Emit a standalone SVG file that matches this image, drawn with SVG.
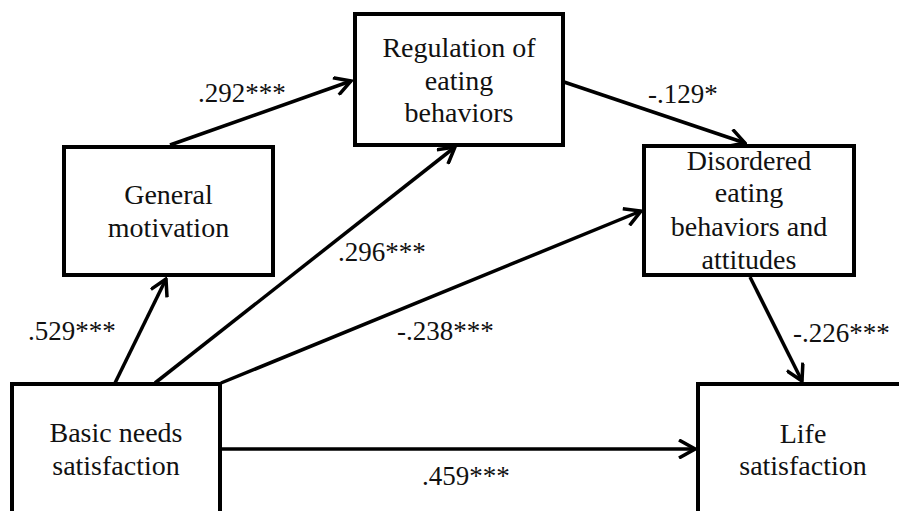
<svg xmlns="http://www.w3.org/2000/svg" width="899" height="511" viewBox="0 0 899 511">
<style>
.box{fill:#fff;stroke:#000;stroke-width:4}
.nodetxt{font-family:'Liberation Serif',serif;font-size:28px;fill:#111;text-anchor:middle}
.lbl{font-family:'Liberation Serif',serif;font-size:27px;fill:#111}
.conn{stroke:#000;stroke-width:3.5;fill:none;marker-end:url(#ah)}
</style>
<defs>
<marker id="ah" viewBox="0 0 20 20" refX="18" refY="10" markerWidth="20" markerHeight="20" markerUnits="userSpaceOnUse" orient="auto">
<path d="M2,1 L18,10 L2,19" fill="none" stroke="#000" stroke-width="3.5"/>
</marker>
</defs>
<rect width="899" height="511" fill="#fff"/>
<g id="general">
<rect class="box" x="64" y="147" width="209" height="128"/>
<text class="nodetxt" font-family="Liberation Serif, serif" x="168.5" y="204">General</text>
<text class="nodetxt" font-family="Liberation Serif, serif" x="168.5" y="237">motivation</text>
</g>
<g id="regulation">
<rect class="box" x="355" y="14" width="208" height="131"/>
<text class="nodetxt" font-family="Liberation Serif, serif" x="459" y="57">Regulation of</text>
<text class="nodetxt" font-family="Liberation Serif, serif" x="459" y="90">eating</text>
<text class="nodetxt" font-family="Liberation Serif, serif" x="459" y="122">behaviors</text>
</g>
<g id="disordered">
<rect class="box" x="644" y="146" width="210" height="129"/>
<text class="nodetxt" font-family="Liberation Serif, serif" x="749" y="170">Disordered</text>
<text class="nodetxt" font-family="Liberation Serif, serif" x="749" y="202">eating</text>
<text class="nodetxt" font-family="Liberation Serif, serif" x="749" y="236">behaviors and</text>
<text class="nodetxt" font-family="Liberation Serif, serif" x="749" y="269">attitudes</text>
</g>
<g id="basic">
<rect class="box" x="12" y="384" width="208" height="140"/>
<text class="nodetxt" font-family="Liberation Serif, serif" x="116" y="442">Basic needs</text>
<text class="nodetxt" font-family="Liberation Serif, serif" x="116" y="475">satisfaction</text>
</g>
<g id="life">
<rect class="box" x="698" y="384" width="220" height="140"/>
<text class="nodetxt" font-family="Liberation Serif, serif" x="803" y="443">Life</text>
<text class="nodetxt" font-family="Liberation Serif, serif" x="803" y="475">satisfaction</text>
</g>
<g id="connectors">
<line class="conn" x1="115" y1="383" x2="166" y2="279"/>
<line class="conn" x1="170" y1="145" x2="351" y2="81"/>
<line class="conn" x1="155" y1="383" x2="455" y2="147"/>
<line class="conn" x1="221" y1="383" x2="641" y2="211"/>
<line class="conn" x1="564" y1="82" x2="745" y2="143"/>
<line class="conn" x1="750" y1="277" x2="802" y2="381"/>
<line class="conn" x1="221" y1="449" x2="695" y2="449"/>
</g>
<g id="labels">
<text class="lbl" font-family="Liberation Serif, serif" x="198" y="102">.292***</text>
<text class="lbl" font-family="Liberation Serif, serif" x="338" y="261">.296***</text>
<text class="lbl" font-family="Liberation Serif, serif" x="648" y="103">-.129*</text>
<text class="lbl" font-family="Liberation Serif, serif" x="28" y="340">.529***</text>
<text class="lbl" font-family="Liberation Serif, serif" x="397" y="340">-.238***</text>
<text class="lbl" font-family="Liberation Serif, serif" x="793" y="342">-.226***</text>
<text class="lbl" font-family="Liberation Serif, serif" x="422" y="485">.459***</text>
</g>
</svg>
